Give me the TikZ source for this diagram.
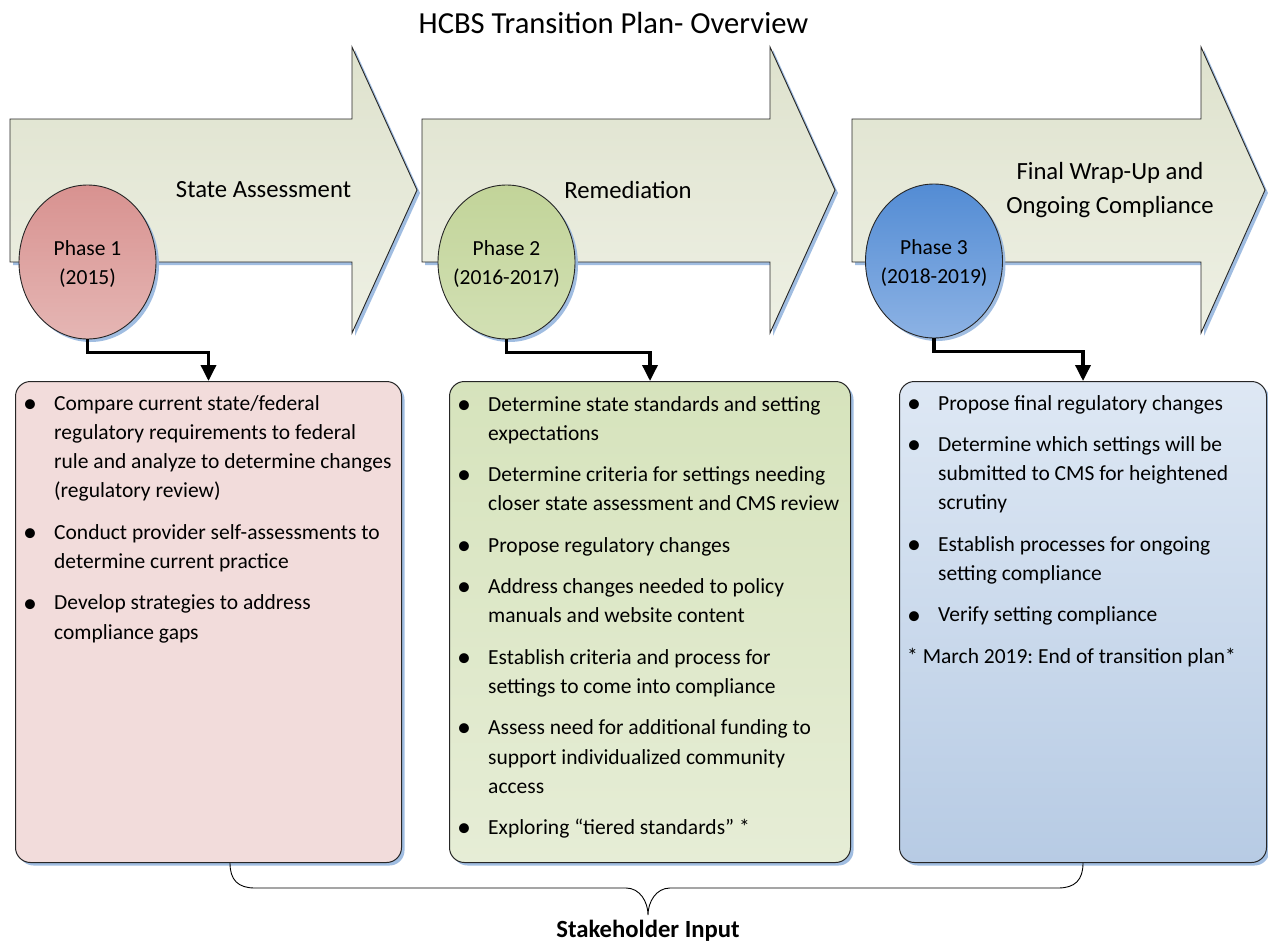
\documentclass[tikz,border=0pt]{standalone}
\usepackage{fontspec}
\setmainfont{Carlito}
\usetikzlibrary{shapes.geometric,arrows.meta,shadows}
\definecolor{shblue}{RGB}{150,182,222}
\definecolor{arrtop}{RGB}{222,226,205}
\definecolor{arrbot}{RGB}{238,240,228}
\definecolor{redtop}{RGB}{216,146,144}
\definecolor{redbot}{RGB}{229,182,180}
\definecolor{grntop}{RGB}{194,212,153}
\definecolor{grnbot}{RGB}{210,224,180}
\definecolor{blutop}{RGB}{83,140,212}
\definecolor{blubot}{RGB}{140,178,228}
\definecolor{pinkbox}{RGB}{242,220,219}
\definecolor{gboxtop}{RGB}{214,227,188}
\definecolor{gboxbot}{RGB}{230,237,214}
\definecolor{bboxtop}{RGB}{222,232,244}
\definecolor{bboxbot}{RGB}{183,203,228}
\newcommand\bodyfont{\fontsize{21.5}{29.3}\selectfont\frenchspacing}
\newcommand\labfont{\fontsize{24.7}{34}\selectfont}
\newcommand\titlefont{\fontsize{30.6}{36}\selectfont}
\newcommand\bul{\makebox[31pt][l]{\raisebox{-2.2pt}{\scalebox{1.3}{\textbullet}}}}
\tikzset{
  shadowed/.style={drop shadow={shadow xshift=3pt,shadow yshift=-3pt,fill=shblue,opacity=0.9}},
  arrowshape/.style={draw=black!85, line width=0.9pt, top color=arrtop, bottom color=arrbot, shadowed},
  phase/.style={ellipse, draw=black!85, line width=0.9pt, minimum width=137, minimum height=154, inner sep=0pt, align=center, font=\bodyfont, shadowed},
  panel/.style={draw=black!85, line width=1pt, rounded corners=15pt, anchor=north west, inner sep=0pt, shadowed},
  paneltext/.style={anchor=base west, inner sep=0pt, font=\bodyfont},
  conn/.style={line width=3.5pt, -{Triangle[length=16pt,width=15pt]}, line join=miter},
  arrlabel/.style={font=\labfont, align=center, inner sep=0pt},
  brace/.style={line width=0.9pt, draw=black},
}
\begin{document}
\begin{tikzpicture}[x=1pt,y=-1pt]
\useasboundingbox (0,0) rectangle (1268,942);
\fill[white] (0,0) rectangle (1268,942);
% title
\node[font=\titlefont, inner sep=0pt] (title) at (613.5,23) {HCBS Transition Plan- Overview};
% arrows
\path[arrowshape] (10,119) -- (352,119) -- (352,47) -- (417,190) -- (352,333) -- (352,262) -- (10,262) -- cycle;
\path[arrowshape] (422,119) -- (770,119) -- (770,47) -- (835,190) -- (770,333) -- (770,262) -- (422,262) -- cycle;
\path[arrowshape] (852,119) -- (1201,119) -- (1201,47) -- (1265,190) -- (1201,333) -- (1201,262) -- (852,262) -- cycle;
\node[arrlabel] (l1) at (263.5,190) {State Assessment};
\node[arrlabel] (l2) at (628,190) {Remediation};
\node[arrlabel] (l3) at (1110,190) {Final Wrap-Up and\\Ongoing Compliance};
% phase circles
\node[phase, top color=redtop, bottom color=redbot] (c1) at (87.5,262) {};
\node[phase, top color=grntop, bottom color=grnbot] (c2) at (506.5,262) {};
\node[phase, top color=blutop, bottom color=blubot] (c3) at (934,261) {};
\node[font=\bodyfont, align=center, inner sep=0pt] (p1) at ([yshift=-2pt]c1.center) {Phase 1\\(2015)};
\node[font=\bodyfont, align=center, inner sep=0pt] (p2) at ([yshift=-2pt]c2.center) {Phase 2\\(2016-2017)};
\node[font=\bodyfont, align=center, inner sep=0pt] (p3) at ([yshift=-2pt]c3.center) {Phase 3\\(2018-2019)};
% panels
\node[panel, fill=pinkbox, minimum width=386, minimum height=481] (b1) at (15,381) {};
\node[panel, top color=gboxtop, bottom color=gboxbot, minimum width=401, minimum height=481] (b2) at (449,381) {};
\node[panel, top color=bboxtop, bottom color=bboxbot, minimum width=367, minimum height=481] (b3) at (899,381) {};
% connectors
\draw[conn] (c1.south) -- ++(0,13) -| (b1.north);
\draw[conn] (c2.south) -- ++(0,13) -| (b2.north);
\draw[conn] (c3.south) -- ++(0,13) -| (b3.north);
% panel texts
\node[paneltext] (t1) at (23,410) {\begin{tabular}[t]{@{}l@{}l@{}}
\bul & Compare current state/federal\\
 & regulatory requirements to federal\\
 & rule and analyze to determine changes\\
 & (regulatory review)\\[12pt]
\bul & Conduct provider self-assessments to\\
 & determine current practice\\[12pt]
\bul & Develop strategies to address\\
 & compliance gaps
\end{tabular}};
\node[paneltext] (t2) at (457,411) {\begin{tabular}[t]{@{}l@{}l@{}}
\bul & Determine state standards and setting\\
 & expectations\\[12pt]
\bul & Determine criteria for settings needing\\
 & closer state assessment and CMS review\\[12pt]
\bul & Propose regulatory changes\\[12pt]
\bul & Address changes needed to policy\\
 & manuals and website content\\[12pt]
\bul & Establish criteria and process for\\
 & settings to come into compliance\\[12pt]
\bul & Assess need for additional funding to\\
 & support individualized community\\
 & access\\[12pt]
\bul & Exploring “tiered standards” *
\end{tabular}};
\node[paneltext] (t3) at (907,410) {\begin{tabular}[t]{@{}l@{}l@{}}
\bul & Propose final regulatory changes\\[12pt]
\bul & Determine which settings will be\\
 & submitted to CMS for heightened\\
 & scrutiny\\[12pt]
\bul & Establish processes for ongoing\\
 & setting compliance\\[12pt]
\bul & Verify setting compliance\\[12pt]
\multicolumn{2}{@{}l@{}}{* March 2019: End of transition plan*}
\end{tabular}};
% brace
\coordinate (brL) at (230,863);
\coordinate (brR) at (1083,863);
\coordinate (brM) at (648,915);
\draw[brace] (brL) .. controls (230,880) and (238,888) .. (255,888) -- (626,888)
  .. controls (640,888) and (648,902) .. (brM)
  .. controls (648,902) and (656,888) .. (670,888) -- (1058,888)
  .. controls (1075,888) and (1083,880) .. (brR);
\node[font=\labfont\bfseries, inner sep=0pt, anchor=base] (stake) at (648,937) {Stakeholder Input};
\end{tikzpicture}
\end{document}
